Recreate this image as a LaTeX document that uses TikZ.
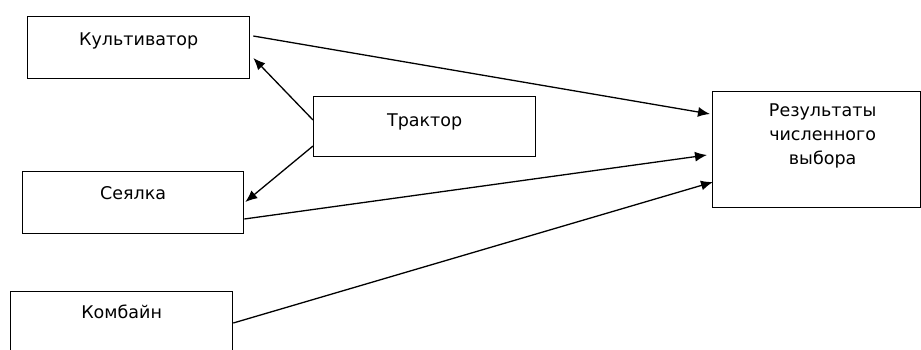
\documentclass[tikz,border=0pt]{standalone}
\usepackage{fontspec}
\setmainfont{DejaVu Sans}
\usetikzlibrary{arrows.meta,calc}
\begin{document}
\begin{tikzpicture}[x=1pt,y=-1pt,
  box/.style={draw, line width=1.3pt, inner xsep=0pt, inner ysep=0pt, anchor=north west,
    minimum width=222pt, font=\fontsize{17.5}{24}\selectfont, text=black},
  conn/.style={line width=1.3pt, -{Latex[length=12pt,width=10pt]}}]
\clip (0,0) rectangle (921,349);
\useasboundingbox (0,0) rectangle (921,349);
\fill[white] (0,0) rectangle (921,349);
\node[box, text height=29pt, text depth=33pt] (kult) at (27,16) {Культиватор};
\node[box, text height=30pt, text depth=30pt] (trak) at (313,96) {Трактор};
\node[box, minimum width=221pt, text height=28pt, text depth=34pt] (seya) at (22,171) {Сеялка};
\node[box, text height=27pt, text depth=40pt] (komb) at (10,291) {Комбайн};
\node[box, minimum width=208pt, minimum height=116pt] (res) at (712,91) {};
\node[anchor=north, align=center, inner sep=0pt, font=\fontsize{17.5}{24}\selectfont, text=black]
  (restext) at ($(res.north)+(6,13)$) {Результаты\\численного\\выбора};
\draw[conn] ($(kult.north east)+(3,20)$) -- ($(res.north west)+(-2,23)$);
\draw[conn] ($(trak.north west)+(0,24)$) -- ($(kult.north east)+(3,42)$);
\draw[conn] ($(trak.north west)+(0,50)$) -- ($(seya.north east)+(1,31)$);
\draw[conn] ($(seya.north east)+(0,48)$) -- ($(res.north west)+(-5,64)$);
\draw[conn] ($(komb.north east)+(0,32)$) -- ($(res.north west)+(1,91)$);
\end{tikzpicture}
\end{document}
